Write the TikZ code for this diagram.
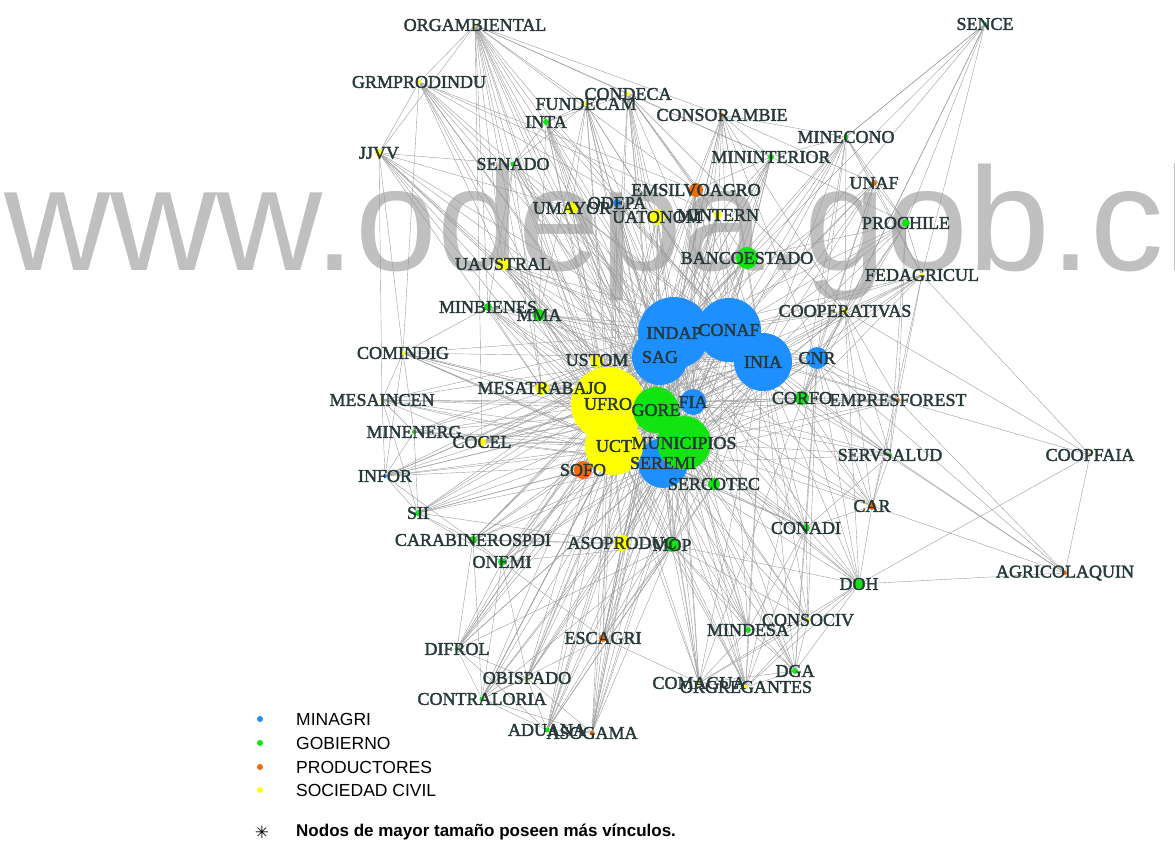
\documentclass[tikz,border=0pt]{standalone}
\usepackage{fontspec}
\setmainfont{Liberation Sans}
\newfontfamily\lblfont{Liberation Serif}[FakeBold=2]
\newfontfamily\symfont{DejaVu Sans}
\definecolor{cminagri}{HTML}{1E8FFF}
\definecolor{cgob}{HTML}{12E412}
\definecolor{cprod}{HTML}{F26B0A}
\definecolor{csoc}{HTML}{FFFF00}
\definecolor{clabel}{HTML}{263838}
\definecolor{cedge}{HTML}{9C9C9C}
\definecolor{cmark}{HTML}{C0C0C0}
\pgfdeclarelayer{bg}
\pgfdeclarelayer{edges}
\pgfsetlayers{bg,edges,main}
\newcommand\corenodes{indap,conaf,sag,inia,ufro,uct,gore,municip,seremi,fia}

\begin{document}
\begin{tikzpicture}[x=1pt,y=-1pt,
    dot/.style={circle,inner sep=0pt,draw=none},
    minagri/.style={dot,fill=cminagri,minimum size=#1},
    gob/.style={dot,fill=cgob,minimum size=#1},
    prod/.style={dot,fill=cprod,minimum size=#1},
    soc/.style={dot,fill=csoc,minimum size=#1},
    minagri/.default=4pt, gob/.default=4pt, prod/.default=4pt, soc/.default=4pt,
    lbl/.style={font=\lblfont\fontsize{18}{18}\selectfont,text=clabel,inner sep=0pt},
    legend/.style={anchor=west,font=\fontsize{17.5}{18}\selectfont,inner sep=0pt},
    edge/.style={draw=cedge,line width=0.4pt}]
\useasboundingbox (0,0) rectangle (1175,844);

\begin{pgfonlayer}{bg}
\clip (0,0) rectangle (1175,844);
\node[anchor=base west,inner sep=0pt,text=cmark,font=\fontsize{147}{147}\selectfont] (marca) at (4,270) {www.odepa.gob.cl};
\end{pgfonlayer}

\node[minagri=4pt] (infor) at (385,476) {};
\node[minagri=8pt] (odepa) at (617,203) {};
\node[minagri=22pt] (cnr) at (817,358) {};
\node[minagri=56pt] (sag) at (660,357) {};
\node[minagri=72pt] (indap) at (674,333) {};
\node[minagri=64pt] (conaf) at (729,330) {};
\node[minagri=58pt] (inia) at (763,362) {};
\node[minagri=26pt] (fia) at (693,402) {};

\node[gob=22pt] (bancoest) at (747,258) {};
\node[gob=14pt] (corfo) at (802,398) {};
\node[gob=12pt] (sercotec) at (714,484) {};
\node[gob=14pt] (mop) at (672,545) {};
\node[gob=12pt] (mma) at (539,315) {};
\node[gob=8pt] (minbienes) at (488,307) {};
\node[gob=6pt] (inta) at (546,122) {};
\node[gob=5pt] (senado) at (513,164) {};
\node[gob=6pt] (mininterior) at (771,157) {};
\node[gob=5pt] (minecono) at (846,137) {};
\node[gob] (sence) at (985,24) {};
\node[gob=8pt] (prochile) at (906,223) {};
\node[gob] (servsalud) at (890,455) {};
\node[gob=8pt] (conadi) at (806,528) {};
\node[gob=10pt] (doh) at (859,584) {};
\node[gob=6pt] (mindesa) at (748,630) {};
\node[gob=6pt] (dga) at (795,671) {};
\node[gob=6pt] (sii) at (418,513) {};
\node[gob=8pt] (carabin) at (473,540) {};
\node[gob=8pt] (onemi) at (502,562) {};
\node[gob] (difrol) at (457,649) {};
\node[gob=5pt] (contral) at (482,699) {};
\node[gob=5pt] (aduana) at (547,730) {};
\node[gob] (minenerg) at (414,432) {};

\node[prod=18pt] (sofo) at (583,470) {};
\node[prod=14pt] (emsilvo) at (696,190) {};
\node[prod] (consoramb) at (722,115) {};
\node[prod=6pt] (unaf) at (874,183) {};
\node[prod] (empresfor) at (898,400) {};
\node[prod=8pt] (car) at (872,506) {};
\node[prod=8pt] (escagri) at (603,638) {};
\node[prod=5pt] (asogama) at (592,733) {};
\node[prod] (agricolaq) at (1065,573) {};
\node[prod=3pt] (coopfaia) at (1090,455) {};

\node[soc=14pt] (ustom) at (597,360) {};
\node[soc=14pt] (mesatrab) at (542,388) {};
\node[soc=12pt] (umayor) at (572,208) {};
\node[soc=16pt] (uatonom) at (657,217) {};
\node[soc=8pt] (mintern) at (718,215) {};
\node[soc=12pt] (uaustral) at (503,264) {};
\node[soc=8pt] (jjvv) at (379,153) {};
\node[soc] (orgamb) at (475,25) {};
\node[soc] (grmprod) at (419,82) {};
\node[soc] (condeca) at (628,94) {};
\node[soc] (fundecam) at (586,104) {};
\node[soc] (comindig) at (403,353) {};
\node[soc] (mesaincen) at (382,400) {};
\node[soc=8pt] (cocel) at (482,442) {};
\node[soc=6pt] (cooperat) at (845,311) {};
\node[soc] (fedagri) at (922,275) {};
\node[soc=16pt] (asoproduc) at (622,543) {};
\node[soc] (consociv) at (808,620) {};
\node[soc] (obispado) at (527,678) {};
\node[soc] (comagua) at (699,683) {};
\node[soc] (orgreg) at (746,687) {};

\node[soc=74pt] (ufro) at (608,404) {};
\node[gob=46pt] (gore) at (656,410) {};
\node[minagri=50pt] (seremi) at (663,463) {};
\node[gob=54pt] (municip) at (684,443) {};
\node[soc=58pt] (uct) at (614,446) {};

\begin{pgfonlayer}{edges}
\foreach \s [count=\i] in \corenodes {
  \foreach \t [count=\j] in \corenodes {
    \ifnum\j>\i \draw[edge] (\s) -- (\t); \fi
  }
}
\foreach \s in {sofo,cnr,corfo,bancoest,sercotec,mop,asoproduc,ustom,mesatrab,odepa,uatonom,umayor,emsilvo,mma,uaustral,mintern,cocel} {
  \foreach \t in \corenodes {\draw[edge] (\s) -- (\t);}
}
\foreach \s/\ts in {
  orgamb/{grmprod,jjvv,consoramb,senado,inta,fundecam,condeca,uaustral,minbienes,mma,indap,conaf,sag,ufro,uct,gore,municip,seremi,mesatrab,cocel,emsilvo,mininterior},
  grmprod/{jjvv,senado,uaustral,comindig,indap,sag,ufro,gore,uct,municip,uatonom,emsilvo,mintern},
  jjvv/{senado,uaustral,comindig,mesaincen,ufro,uct,gore,municip,sag,indap,mesatrab,umayor},
  condeca/{fundecam,inta,indap,conaf,sag,ufro,gore,uct,municip,seremi,bancoest,mininterior,cooperat,emsilvo,mintern,uatonom},
  fundecam/{inta,senado,indap,conaf,sag,ufro,gore,uct,municip,seremi,umayor,uatonom,mma},
  inta/{senado,indap,sag,inia,ufro,uct,gore,municip,seremi,umayor,uatonom,mma},
  consoramb/{mininterior,minecono,emsilvo,mintern,bancoest,indap,conaf,inia,ufro,gore,municip,seremi,cnr,cooperat,unaf},
  minecono/{sence,mininterior,unaf,prochile,cooperat,fedagri,bancoest,indap,conaf,inia,gore,municip,corfo,cnr},
  mininterior/{emsilvo,mintern,bancoest,indap,conaf,sag,gore,municip,seremi,ufro,prochile},
  sence/{minecono,prochile,fedagri,cooperat,corfo,conaf,indap},
  senado/{umayor,uaustral,indap,sag,ufro,gore,uct,municip,mesatrab,minbienes},
  unaf/{prochile,fedagri,cooperat,indap,conaf,inia,cnr,corfo,gore,municip},
  prochile/{fedagri,cooperat,bancoest,indap,conaf,inia,cnr,corfo,gore,empresfor,servsalud},
  fedagri/{cooperat,indap,conaf,inia,cnr,corfo,gore,municip,empresfor,car,coopfaia},
  cooperat/{indap,conaf,inia,cnr,corfo,gore,municip,seremi,ufro,empresfor,car,servsalud,doh},
  minbienes/{mma,comindig,indap,sag,ufro,uct,gore,municip,seremi,mesatrab},
  comindig/{mesaincen,minenerg,infor,indap,sag,ufro,uct,gore,municip,seremi,conadi,mesatrab},
  mesaincen/{minenerg,infor,sii,cocel,indap,sag,ufro,uct,gore,municip,seremi,fia},
  minenerg/{infor,sii,cocel,indap,sag,ufro,uct,gore,municip,seremi},
  infor/{sii,carabin,indap,conaf,sag,ufro,uct,gore,municip,seremi,fia},
  sii/{carabin,onemi,indap,sag,ufro,uct,gore,municip,seremi,sofo,asoproduc},
  carabin/{onemi,difrol,contral,indap,sag,ufro,uct,gore,municip,seremi,mop,asoproduc},
  onemi/{difrol,contral,obispado,indap,sag,ufro,uct,gore,municip,seremi,mop,escagri},
  difrol/{contral,obispado,aduana,indap,sag,ufro,uct,gore,municip,seremi,mop},
  contral/{obispado,aduana,asogama,indap,sag,ufro,uct,gore,municip,seremi,mop,escagri},
  obispado/{aduana,asogama,indap,sag,ufro,uct,gore,municip,seremi,asoproduc},
  aduana/{asogama,escagri,indap,sag,ufro,uct,gore,municip,seremi,mop,sercotec},
  asogama/{escagri,indap,conaf,sag,ufro,uct,gore,municip,seremi,asoproduc,mop},
  escagri/{indap,sag,inia,ufro,uct,gore,municip,seremi,asoproduc,mop,sercotec,comagua},
  comagua/{orgreg,mindesa,dga,consociv,indap,sag,inia,ufro,uct,gore,municip,seremi,mop,cnr,doh},
  orgreg/{mindesa,dga,consociv,doh,indap,inia,ufro,uct,gore,municip,seremi,mop,cnr,conadi},
  dga/{consociv,mindesa,doh,indap,inia,gore,municip,seremi,mop,cnr,conadi},
  mindesa/{consociv,indap,conaf,sag,inia,ufro,gore,municip,seremi,mop,conadi},
  consociv/{doh,indap,inia,gore,municip,seremi,conadi,mop,cnr},
  doh/{conadi,car,agricolaq,coopfaia,indap,inia,gore,municip,seremi,cnr,mop,corfo},
  conadi/{car,indap,conaf,sag,inia,ufro,uct,gore,municip,seremi,cnr,servsalud},
  car/{agricolaq,servsalud,empresfor,indap,inia,cnr,gore,municip,corfo,fia},
  agricolaq/{coopfaia,empresfor,servsalud,corfo,cnr},
  coopfaia/{empresfor,cooperat},
  servsalud/{empresfor,indap,conaf,inia,gore,municip,seremi,cnr,fia},
  empresfor/{indap,conaf,inia,cnr,corfo,gore,municip,seremi,fia}} {
  \foreach \t in \ts {\draw[edge] (\s) -- (\t);}
}
\end{pgfonlayer}

\foreach \nm/\tx in {infor/INFOR,odepa/ODEPA,cnr/CNR,sag/SAG,indap/INDAP,conaf/CONAF,inia/INIA,fia/FIA,
  bancoest/BANCOESTADO,corfo/CORFO,sercotec/SERCOTEC,mop/MOP,mma/MMA,minbienes/MINBIENES,inta/INTA,
  senado/SENADO,mininterior/MININTERIOR,minecono/MINECONO,sence/SENCE,prochile/PROCHILE,
  servsalud/SERVSALUD,conadi/CONADI,doh/DOH,mindesa/MINDESA,dga/DGA,sii/SII,carabin/CARABINEROSPDI,
  onemi/ONEMI,difrol/DIFROL,contral/CONTRALORIA,aduana/ADUANA,minenerg/MINENERG,
  sofo/SOFO,emsilvo/EMSILVOAGRO,consoramb/CONSORAMBIE,unaf/UNAF,empresfor/EMPRESFOREST,car/CAR,
  escagri/ESCAGRI,asogama/ASOGAMA,agricolaq/AGRICOLAQUIN,coopfaia/COOPFAIA,
  ustom/USTOM,mesatrab/MESATRABAJO,umayor/UMAYOR,uatonom/UATONOM,mintern/MINTERN,uaustral/UAUSTRAL,
  jjvv/JJVV,orgamb/ORGAMBIENTAL,grmprod/GRMPRODINDU,condeca/CONDECA,fundecam/FUNDECAM,
  comindig/COMINDIG,mesaincen/MESAINCEN,cocel/COCEL,cooperat/COOPERATIVAS,fedagri/FEDAGRICUL,
  asoproduc/ASOPRODUC,consociv/CONSOCIV,obispado/OBISPADO,comagua/COMAGUA,orgreg/ORGREGANTES,
  ufro/UFRO,gore/GORE,seremi/SEREMI,municip/MUNICIPIOS,uct/UCT} {
  \node[lbl] (\nm-t) at (\nm) {\tx};
}

\node[minagri=6pt] (lg1) at (260,719) {};
\node[gob=6pt] (lg2) at (260,743) {};
\node[prod=6pt] (lg3) at (260,767) {};
\node[soc=6pt] (lg4) at (260,790) {};
\node[legend] (lg1-t) at (296,719) {MINAGRI};
\node[legend] (lg2-t) at (296,743) {GOBIERNO};
\node[legend] (lg3-t) at (296,767) {PRODUCTORES};
\node[legend] (lg4-t) at (296,790) {SOCIEDAD CIVIL};
\node[font=\symfont\bfseries\fontsize{17}{17}\selectfont,inner sep=0pt] (ast) at (262,832) {✳};
\node[anchor=west,font=\bfseries\fontsize{17}{17}\selectfont,inner sep=0pt] (nota) at (296,832) {Nodos de mayor tamaño poseen más vínculos.};
\end{tikzpicture}
\end{document}
